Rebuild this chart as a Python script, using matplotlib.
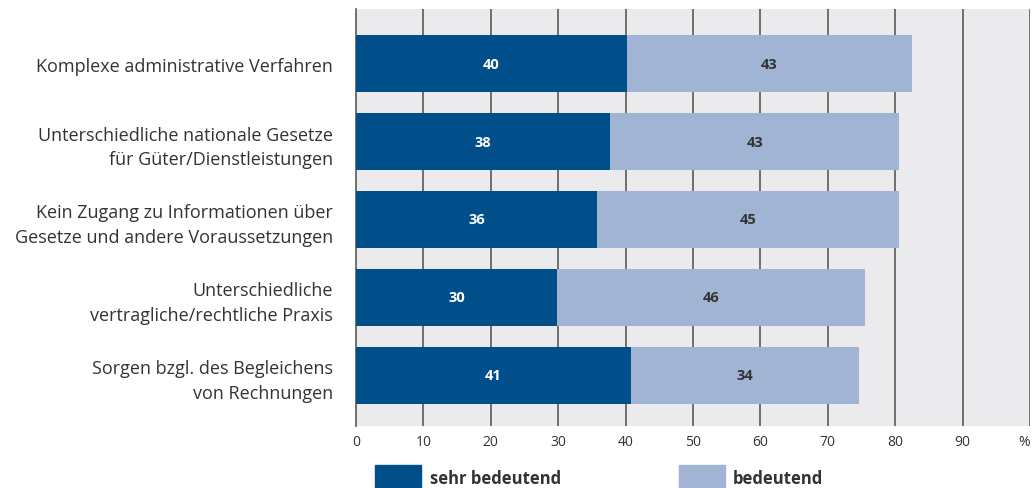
import matplotlib.pyplot as plt
from matplotlib.patches import Rectangle
import numpy as np

plt.rcParams["font.family"] = ["Open Sans", "DejaVu Sans"]

categories = [
    "Komplexe administrative Verfahren",
    "Unterschiedliche nationale Gesetze\nfür Güter/Dienstleistungen",
    "Kein Zugang zu Informationen über\nGesetze und andere Voraussetzungen",
    "Unterschiedliche\nvertragliche/rechtliche Praxis",
    "Sorgen bzgl. des Begleichens\nvon Rechnungen",
]
sehr_bedeutend = [40.2, 37.7, 35.8, 29.8, 40.8]
bedeutend = [42.3, 42.9, 44.8, 45.7, 33.8]
sehr_labels = ["40", "38", "36", "30", "41"]
bed_labels = ["43", "43", "45", "46", "34"]
xticks = [0, 10, 20, 30, 40, 50, 60, 70, 80, 90]

dark = "#004f8b"
light = "#a2b4d4"
text_col = "#333333"

W, H = 1034, 489
fig = plt.figure(figsize=(W / 100, H / 100), dpi=100)
ax = fig.add_axes([356 / W, 1 - 427 / H, 674 / W, 417 / H])
ax.set_facecolor("#ebebed")

y = np.arange(len(categories))
ax.barh(y, sehr_bedeutend, height=0.73, color=dark, zorder=3)
ax.barh(y, bedeutend, left=sehr_bedeutend, height=0.73, color=light, zorder=3)

for i in range(len(categories)):
    ax.text(sehr_bedeutend[i] / 2, y[i], sehr_labels[i], color="white",
            ha="center", va="center", fontsize=10.5, fontweight="bold", zorder=4)
    ax.text(sehr_bedeutend[i] + bedeutend[i] / 2, y[i], bed_labels[i],
            color=text_col, ha="center", va="center", fontsize=10.5,
            fontweight="bold", zorder=4)

ax.set_xlim(0, 100)
ax.set_ylim(4.65, -0.70)
for x in xticks[1:] + [100]:
    ax.axvline(x, color="#5a5a5a", lw=1.2, zorder=2)

ax.set_xticks(xticks + [99.1])
ax.set_xticklabels([str(t) for t in xticks] + ["%"])
ax.tick_params(axis="x", length=0, pad=6, labelsize=10, labelcolor=text_col)
ax.set_yticks(y)
ax.set_yticklabels(categories, fontsize=13, color=text_col)
ax.tick_params(axis="y", length=0, pad=16.5)
for lbl in ax.get_yticklabels():
    lbl.set_multialignment("right")
    lbl.set_linespacing(1.45)

for s in ["top", "right", "bottom"]:
    ax.spines[s].set_visible(False)
ax.spines["left"].set_color("#5a5a5a")
ax.spines["left"].set_linewidth(1.2)

# legend
fig.add_artist(Rectangle((375 / W, 0), 46 / W, 23 / H, color=dark,
                         transform=fig.transFigure))
fig.add_artist(Rectangle((679 / W, 0), 46 / W, 23 / H, color=light,
                         transform=fig.transFigure))
fig.text(430 / W, 1 - 479 / H, "sehr bedeutend", fontsize=12,
         fontweight="bold", color=text_col, va="center")
fig.text(733 / W, 1 - 479 / H, "bedeutend", fontsize=12,
         fontweight="bold", color=text_col, va="center")

fig.savefig("out.png", dpi=100)
